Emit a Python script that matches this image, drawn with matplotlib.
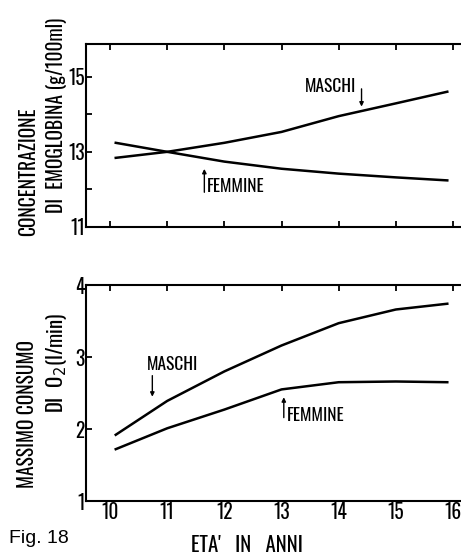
import matplotlib
matplotlib.use("Agg")
import matplotlib.pyplot as plt
import numpy as np

plt.rcParams['font.family'] = ['Oswald', 'DejaVu Sans']
plt.rcParams['font.weight'] = 'medium'

# età (anni)
eta = [10.1, 11, 12, 13, 14, 15, 15.9]

# emoglobina (g/100ml)
hb_maschi = [12.84, 13.0, 13.24, 13.53, 13.95, 14.29, 14.6]
hb_femmine = [13.24, 13.0, 12.74, 12.55, 12.42, 12.32, 12.24]

# massimo consumo di O2 (l/min)
o2_maschi = [1.92, 2.39, 2.80, 3.16, 3.47, 3.66, 3.74]
o2_femmine = [1.72, 2.01, 2.27, 2.55, 2.65, 2.66, 2.65]

x_ticks = [10, 11, 12, 13, 14, 15, 16]

fig = plt.figure(figsize=(4.61, 5.57), dpi=100)
ax1 = fig.add_axes([0.1866, 0.5925, 0.8134, 0.3285])
ax2 = fig.add_axes([0.1866, 0.1005, 0.8134, 0.3878])

for ax in (ax1, ax2):
    ax.set_xlim(9.58, 16.14)
    ax.set_xticks(x_ticks)
    ax.spines['right'].set_visible(False)
    for s in ('left', 'top', 'bottom'):
        ax.spines[s].set_linewidth(1.5)
    ax.tick_params(direction='in', width=1.3, length=4, labelsize=14, pad=1)

arrow = dict(arrowstyle='-|>', color='black', lw=1, mutation_scale=6)

# pannello superiore
ax1.plot(eta, hb_maschi, color='black', lw=1.8)
ax1.plot(eta, hb_femmine, color='black', lw=1.8)
ax1.set_ylim(11, 15.87)
ax1.set_yticks([11, 12, 13, 14, 15])
ax1.set_yticklabels(['11', '', '13', '', '15'])
ax1.tick_params(axis='x', top=True, bottom=True, labelbottom=False)
ax1.text(14.3, 14.73, 'MASCHI', ha='right', va='center', fontsize=12.5)
ax1.annotate('', xy=(14.4, 14.13), xytext=(14.4, 14.75), arrowprops=arrow)
ax1.text(11.7, 12.07, 'FEMMINE', ha='left', va='center', fontsize=12.5)
ax1.annotate('', xy=(11.65, 12.62), xytext=(11.65, 11.85), arrowprops=arrow)

# pannello inferiore
ax2.plot(eta, o2_maschi, color='black', lw=1.8)
ax2.plot(eta, o2_femmine, color='black', lw=1.8)
ax2.set_ylim(1, 3.93)
ax2.set_yticks([1, 2, 3, 4])
ax2.tick_params(axis='x', top=True, bottom=False, pad=1)
ax2.text(10.65, 2.9, 'MASCHI', ha='left', va='center', fontsize=12.5)
ax2.annotate('', xy=(10.74, 2.41), xytext=(10.74, 2.78), arrowprops=arrow)
ax2.text(13.1, 2.19, 'FEMMINE', ha='left', va='center', fontsize=12.5)
ax2.annotate('', xy=(13.04, 2.48), xytext=(13.04, 2.12), arrowprops=arrow)

# etichette degli assi
fig.text(0.061, 0.691, 'CONCENTRAZIONE', rotation=90, ha='center', va='center', fontsize=14)
fig.text(0.122, 0.792, 'DI  EMOGLOBINA (g/100ml)', rotation=90, ha='center', va='center', fontsize=14)
fig.text(0.059, 0.257, 'MASSIMO CONSUMO', rotation=90, ha='center', va='center', fontsize=14)
fig.text(0.122, 0.348, 'DI  O$_2$(l/min)', rotation=90, ha='center', va='center', fontsize=15)
fig.text(0.536, 0.022, "ETA'   IN   ANNI", ha='center', va='center', fontsize=15)

fig.text(0.02, 0.034, 'Fig. 18', fontsize=14, va='center', fontweight='normal',
         family=['Liberation Sans', 'DejaVu Sans'])

fig.savefig('out.png', dpi=100)
